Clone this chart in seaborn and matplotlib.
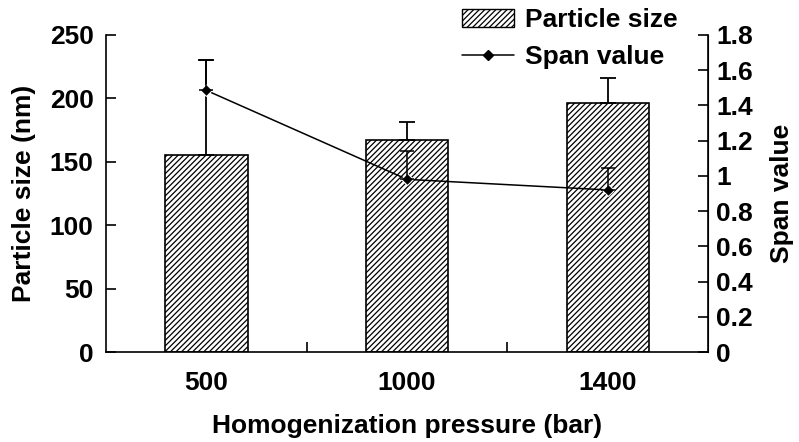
import pandas as pd
import seaborn as sns
import matplotlib.pyplot as plt
import numpy as np
from matplotlib.lines import Line2D
from matplotlib.patches import Patch

# данные с картинки
pressure = ['500', '1000', '1400']
particle_size = [155, 167, 196]
particle_err = [75, 14, 20]
span_value = [1.485, 0.98, 0.92]
span_err = [0.17, 0.16, 0.125]

sns.set_style('ticks')
plt.rcParams['font.family'] = ['Liberation Sans', 'DejaVu Sans']
plt.rcParams['font.weight'] = 'bold'
plt.rcParams['hatch.linewidth'] = 0.9
plt.rcParams['xtick.direction'] = 'in'
plt.rcParams['ytick.direction'] = 'in'
for k in ['text.color', 'axes.labelcolor', 'xtick.color', 'ytick.color', 'axes.edgecolor']:
    plt.rcParams[k] = 'black'

df = pd.DataFrame({'pressure': pressure, 'size': particle_size})

fig = plt.figure(figsize=(7.99, 4.42), dpi=100)
ax = fig.add_axes([0.1327, 0.2036, 0.7535, 0.7174])

sns.barplot(data=df, x='pressure', y='size', ax=ax, color='white',
            edgecolor='black', linewidth=1.2, width=0.41, errorbar=None,
            zorder=2)
for p in ax.patches:
    p.set_hatch('//////')
x = np.arange(len(pressure))
ax.errorbar(x, particle_size, yerr=[np.zeros(3), particle_err], fmt='none',
            ecolor='black', elinewidth=1.3, capsize=6, capthick=1.3, zorder=3)

ax.set_ylim(0, 250)
ax.set_yticks(np.arange(0, 251, 50))
ax.set_xlim(-0.5, 2.5)
ax.set_xticks([0.5, 1.5], minor=False)
ax.set_xticks(x, minor=True)
ax.set_xticklabels([], minor=False)
ax.set_xticklabels(pressure, minor=True)
ax.tick_params(axis='x', which='minor', length=0, labelsize=19, pad=14)
ax.tick_params(axis='x', which='major', length=7, width=1.2)
ax.tick_params(axis='y', labelsize=19, length=7, width=1.2, pad=9)
ax.set_xlabel('Homogenization pressure (bar)', fontsize=19, fontweight='bold', labelpad=13)
ax.set_ylabel('Particle size (nm)', fontsize=19, fontweight='bold', labelpad=10)
for s in ['left', 'bottom']:
    ax.spines[s].set_linewidth(1.2)
ax.spines['top'].set_visible(False)

ax2 = ax.twinx()
sns.lineplot(x=x, y=span_value, ax=ax2, color='black', linewidth=1.1,
             marker='D', markersize=6, zorder=4)
ax2.errorbar(x, span_value, yerr=[np.zeros(3), span_err], fmt='none',
             ecolor='black', elinewidth=1.1, capsize=5, capthick=1.1, zorder=4)
ax2.set_ylim(0, 1.8)
ax2.set_yticks(np.arange(0, 1.81, 0.2))
ax2.set_yticklabels(['0', '0.2', '0.4', '0.6', '0.8', '1', '1.2', '1.4', '1.6', '1.8'])
ax2.tick_params(axis='y', labelsize=19, length=7, width=1.2, pad=6)
ax2.set_ylabel('Span value', fontsize=19, fontweight='bold', labelpad=12)
ax2.spines['right'].set_linewidth(1.2)
ax2.spines['top'].set_visible(False)
ax2.spines['left'].set_visible(False)
ax2.spines['bottom'].set_visible(False)

handles = [Patch(facecolor='white', edgecolor='black', hatch='//////', linewidth=1),
           Line2D([0], [0], color='black', linewidth=1.1, marker='D', markersize=5)]
leg = fig.legend(handles, ['Particle size', 'Span value'], loc='upper left',
                 bbox_to_anchor=(0.548, 1.035), frameon=False,
                 prop={'size': 19, 'weight': 'bold'}, handlelength=2.0,
                 handletextpad=0.4, labelspacing=0.5)

fig.savefig('out.png', dpi=100)
